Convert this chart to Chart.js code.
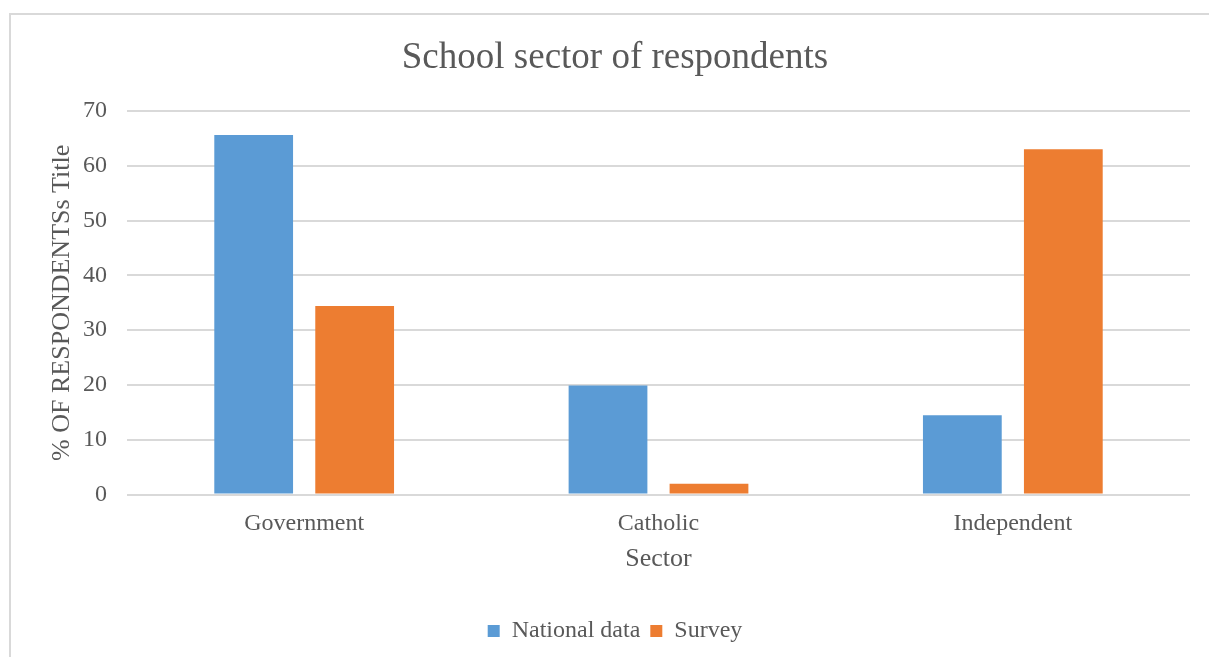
<!DOCTYPE html>
<html>
<head>
<meta charset="utf-8">
<script src="https://cdn.jsdelivr.net/npm/chart.js@4"></script>
<style>
  html, body { margin: 0; padding: 0; background: #fff; }
  #wrap { width: 1209px; height: 657px; }
</style>
</head>
<body>
<div id="wrap"><canvas id="chart1" width="1209" height="657"></canvas></div>
<script>
var sectors = ["Government", "Catholic", "Independent"];
var nationalData = [65.6, 19.9, 14.5];
var surveyData = [34.4, 2.0, 63.0];

var serif = "'Liberation Serif', 'Times New Roman', serif";
var textColor = "#595959";
var gridColor = "#d9d9d9";

// light frame around the chart, like the Excel chart area
var framePlugin = {
  id: "frame",
  beforeDraw: function (chart) {
    var c = chart.ctx;
    c.save();
    c.fillStyle = "#ffffff";
    c.fillRect(0, 0, chart.width, chart.height);
    c.strokeStyle = gridColor;
    c.lineWidth = 2;
    c.strokeRect(10, 14, 1300, 700);
    c.restore();
  },
};

var ctx = document.getElementById("chart1").getContext("2d");
var myChart = new Chart(ctx, {
  type: "bar",
  data: {
    labels: sectors,
    datasets: [
      {
        label: "National data",
        data: nationalData,
        backgroundColor: "#5b9bd5",
        borderWidth: 0,
      },
      {
        label: "Survey",
        data: surveyData,
        backgroundColor: "#ed7d31",
        borderWidth: 0,
      },
    ],
  },
  options: {
    responsive: false,
    animation: false,
    categoryPercentage: 0.57,
    barPercentage: 0.78,
    layout: {
      padding: { left: 40, right: 19, top: 0, bottom: 4 },
    },
    plugins: {
      title: {
        display: true,
        text: "School sector of respondents",
        color: textColor,
        font: { family: serif, size: 37, weight: "normal" },
        padding: { top: 35.8, bottom: 30.8 },
      },
      legend: {
        position: "bottom",
        display: true,
        labels: {
          color: textColor,
          font: { family: serif, size: 24 },
          boxWidth: 12,
          boxHeight: 12,
          padding: 10,
        },
      },
      tooltip: { enabled: false },
    },
    scales: {
      x: {
        grid: { display: false, drawTicks: false },
        border: { display: false },
        ticks: {
          color: textColor,
          font: { family: serif, size: 24 },
          padding: 15,
        },
        title: {
          display: true,
          text: "Sector",
          color: textColor,
          font: { family: serif, size: 26 },
          padding: { top: 7, bottom: 33.8 },
        },
        afterFit: function (scale) {
          scale.height = 114.4;
        },
      },
      y: {
        min: 0,
        max: 70,
        ticks: {
          stepSize: 10,
          color: textColor,
          font: { family: serif, size: 24 },
          padding: 20,
        },
        grid: { color: gridColor, lineWidth: 2, drawTicks: false },
        border: { display: false },
        title: {
          display: true,
          text: "% OF RESPONDENTSs Title",
          color: textColor,
          font: { family: serif, size: 26 },
          padding: { top: 6.4, bottom: 0 },
        },
        afterFit: function (scale) {
          scale.width = 87;
        },
      },
    },
  },
  plugins: [framePlugin],
});
</script>
</body>
</html>
